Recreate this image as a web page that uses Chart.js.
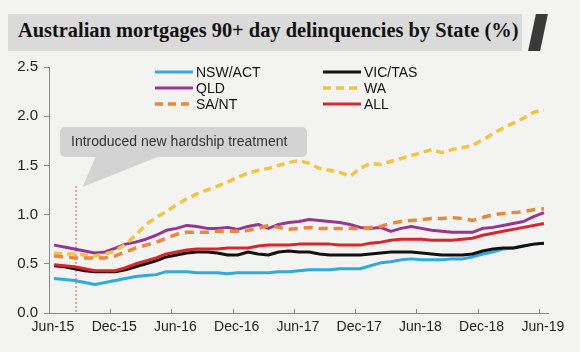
<!DOCTYPE html>
<html><head><meta charset="utf-8">
<script src="https://cdn.jsdelivr.net/npm/chart.js@4"></script>
<style>
html,body{margin:0;padding:0;background:#f8f8f8;}
#wrap{position:relative;width:580px;height:352px;overflow:hidden;background:#f3f4f2;}
#titleBar{position:absolute;left:8px;top:14px;width:514px;height:37px;background:#dadada;}
#title{position:absolute;left:18px;top:19px;font:bold 20.4px "Liberation Serif","DejaVu Serif",serif;color:#111;white-space:nowrap;}
#slash{position:absolute;left:532px;top:14px;width:12px;height:37px;background:#3a3a3a;transform:skewX(-12deg);}
canvas{position:absolute;left:0;top:0;}
</style></head><body>
<div id="wrap">
<div id="titleBar"></div><div id="slash"></div>
<div id="title">Australian mortgages 90+ day delinquencies by State (%)</div>
<canvas id="c" width="580" height="352"></canvas>
</div>
<script>
// Tick labels every 6 months starting Jun-15
const xLabels = ['Jun-15','Dec-15','Jun-16','Dec-16','Jun-17','Dec-17','Jun-18','Dec-18','Jun-19'];
const yTicks = [0, 0.5, 1.0, 1.5, 2.0, 2.5];
// monthly observations (first point ~ Jul-15)
const nswAct = [0.35,0.34,0.33,0.31,0.29,0.31,0.33,0.35,0.37,0.38,0.39,0.42,0.42,0.42,0.41,0.41,0.41,0.40,0.41,0.41,0.41,0.41,0.42,0.42,0.43,0.44,0.44,0.44,0.45,0.45,0.45,0.48,0.51,0.52,0.54,0.55,0.54,0.54,0.54,0.55,0.55,0.57,0.60,0.62,0.65,0.66,0.68,0.70,0.71];
const vicTas = [0.48,0.47,0.45,0.43,0.42,0.42,0.42,0.44,0.47,0.50,0.53,0.57,0.59,0.61,0.62,0.62,0.61,0.59,0.59,0.62,0.60,0.59,0.62,0.63,0.62,0.62,0.60,0.59,0.59,0.59,0.59,0.60,0.61,0.62,0.62,0.62,0.61,0.60,0.59,0.59,0.59,0.60,0.63,0.65,0.66,0.66,0.68,0.70,0.71];
const qld = [0.69,0.67,0.65,0.63,0.61,0.62,0.66,0.70,0.72,0.75,0.79,0.84,0.86,0.89,0.88,0.86,0.86,0.87,0.85,0.88,0.90,0.86,0.90,0.92,0.93,0.95,0.94,0.93,0.92,0.90,0.87,0.86,0.87,0.83,0.86,0.88,0.86,0.84,0.83,0.82,0.82,0.82,0.86,0.87,0.89,0.91,0.93,0.98,1.02];
const wa = [0.61,0.60,0.60,0.59,0.58,0.60,0.63,0.70,0.79,0.90,0.97,1.03,1.10,1.16,1.21,1.25,1.29,1.33,1.38,1.42,1.45,1.47,1.50,1.53,1.55,1.52,1.47,1.45,1.43,1.39,1.47,1.52,1.51,1.54,1.57,1.60,1.63,1.66,1.63,1.66,1.68,1.70,1.76,1.82,1.88,1.93,1.98,2.04,2.06];
const saNt = [0.58,0.57,0.56,0.56,0.56,0.56,0.58,0.62,0.66,0.69,0.72,0.76,0.80,0.82,0.82,0.82,0.83,0.83,0.83,0.84,0.86,0.89,0.87,0.85,0.86,0.87,0.86,0.86,0.86,0.86,0.86,0.87,0.88,0.91,0.93,0.94,0.95,0.96,0.96,0.97,0.96,0.94,0.97,1.00,1.01,1.02,1.03,1.05,1.06];
const all = [0.49,0.48,0.47,0.45,0.43,0.43,0.43,0.46,0.50,0.53,0.56,0.60,0.62,0.64,0.65,0.65,0.65,0.66,0.66,0.66,0.68,0.69,0.69,0.69,0.70,0.70,0.70,0.70,0.69,0.69,0.69,0.71,0.72,0.74,0.75,0.75,0.75,0.74,0.74,0.74,0.75,0.76,0.79,0.81,0.83,0.85,0.87,0.89,0.91];
const hardshipMonth = 2.6; // months after Jun-15
const calloutText = 'Introduced new hardship treatment';

const toPts = arr => arr.map((v, i) => ({x: i + 0.5, y: v}));
const series = [
  {label:'NSW/ACT', data:nswAct, color:'#2fa9df', dash:[], w:3, order:5},
  {label:'VIC/TAS', data:vicTas, color:'#111111', dash:[], w:3, order:4},
  {label:'QLD', data:qld, color:'#97358f', dash:[], w:3, order:3},
  {label:'WA', data:wa, color:'#f3c43f', dash:[8,5], w:3.5, order:2},
  {label:'SA/NT', data:saNt, color:'#ea873a', dash:[9,6], w:3.5, order:1},
  {label:'ALL', data:all, color:'#d7262c', dash:[], w:3, order:0}
];

const FONT = '"Liberation Sans", Arial, sans-serif';

const extras = {
  id:'extras',
  beforeDatasetsDraw(chart){
    const ctx = chart.ctx, xs = chart.scales.x, ca = chart.chartArea;
    const px = xs.getPixelForValue(hardshipMonth);
    ctx.save();
    // callout box
    ctx.fillStyle = '#d3d3d3';
    ctx.beginPath();
    ctx.roundRect(60, 127, 247, 30, 5);
    ctx.fill();
    ctx.beginPath();
    ctx.moveTo(96, 156); ctx.lineTo(160, 156); ctx.lineTo(px + 7, 187); ctx.closePath();
    ctx.fill();
    ctx.fillStyle = '#333';
    ctx.font = '14px ' + FONT;
    ctx.textBaseline = 'middle';
    ctx.fillText(calloutText, 71, 142);
    // dotted line
    ctx.strokeStyle = '#d9505c';
    ctx.lineWidth = 1;
    ctx.setLineDash([2,2]);
    ctx.beginPath();
    ctx.moveTo(px + 0.5, 186); ctx.lineTo(px + 0.5, ca.bottom);
    ctx.stroke();
    ctx.restore();
  },
  afterDraw(chart){
    const ctx = chart.ctx, xs = chart.scales.x, ca = chart.chartArea;
    ctx.save();
    // inward x ticks
    ctx.strokeStyle = '#8a8a8a'; ctx.lineWidth = 1;
    xLabels.forEach((l, i) => {
      const p = Math.round(xs.getPixelForValue(i * 6)) + 0.5;
      ctx.beginPath(); ctx.moveTo(p, ca.bottom); ctx.lineTo(p, ca.bottom - 4); ctx.stroke();
    });
    // legend
    const cols = [155, 323], rows = [72, 88, 104];
    ctx.font = '14px ' + FONT;
    ctx.textBaseline = 'middle';
    series.forEach((s, i) => {
      const cx = cols[i % 2], cy = rows[Math.floor(i / 2)];
      ctx.strokeStyle = s.color; ctx.lineWidth = s.w;
      ctx.setLineDash(s.dash.length ? [8,5] : []);
      ctx.beginPath(); ctx.moveTo(cx, cy); ctx.lineTo(cx + 38, cy); ctx.stroke();
      ctx.setLineDash([]);
      ctx.fillStyle = '#111';
      ctx.fillText(s.label, cx + 41, cy + 1);
    });
    ctx.restore();
  }
};

new Chart(document.getElementById('c'), {
  type:'line',
  data:{datasets: series.map(s => ({
    label:s.label, data:toPts(s.data), borderColor:s.color, backgroundColor:s.color,
    borderWidth:s.w, borderDash:s.dash, pointRadius:0, tension:0, fill:false, order:s.order,
    borderCapStyle:'butt', borderJoinStyle:'round'
  }))},
  options:{
    responsive:false, animation:false, devicePixelRatio:1,
    layout:{padding:{left:0, right:32, top:67, bottom:0}},
    plugins:{legend:{display:false}, tooltip:{enabled:false}},
    scales:{
      x:{type:'linear', min:0, max:48.9,
        afterFit(s){ s.height = 39; },
        afterBuildTicks(s){ s.ticks = xLabels.map((l, i) => ({value:i * 6})); },
        ticks:{callback:(v) => xLabels[Math.round(v / 6)], font:{size:14, family:FONT}, color:'#222', padding:6, labelOffset:4, maxRotation:0, autoSkip:false},
        grid:{display:true, drawOnChartArea:false, drawTicks:false, color:'#8a8a8a'},
        border:{display:true, color:'#8a8a8a'}
      },
      y:{min:0, max:2.5,
        afterFit(s){ s.width = 49; },
        afterBuildTicks(s){ s.ticks = yTicks.map(v => ({value:v})); },
        ticks:{callback:(v) => v.toFixed(1), font:{size:15, family:FONT}, color:'#222', padding:6},
        grid:{display:true, drawOnChartArea:false, drawTicks:true, tickLength:5, color:'#8a8a8a'},
        border:{display:true, color:'#8a8a8a'}
      }
    }
  },
  plugins:[extras]
});
</script>
</body></html>
